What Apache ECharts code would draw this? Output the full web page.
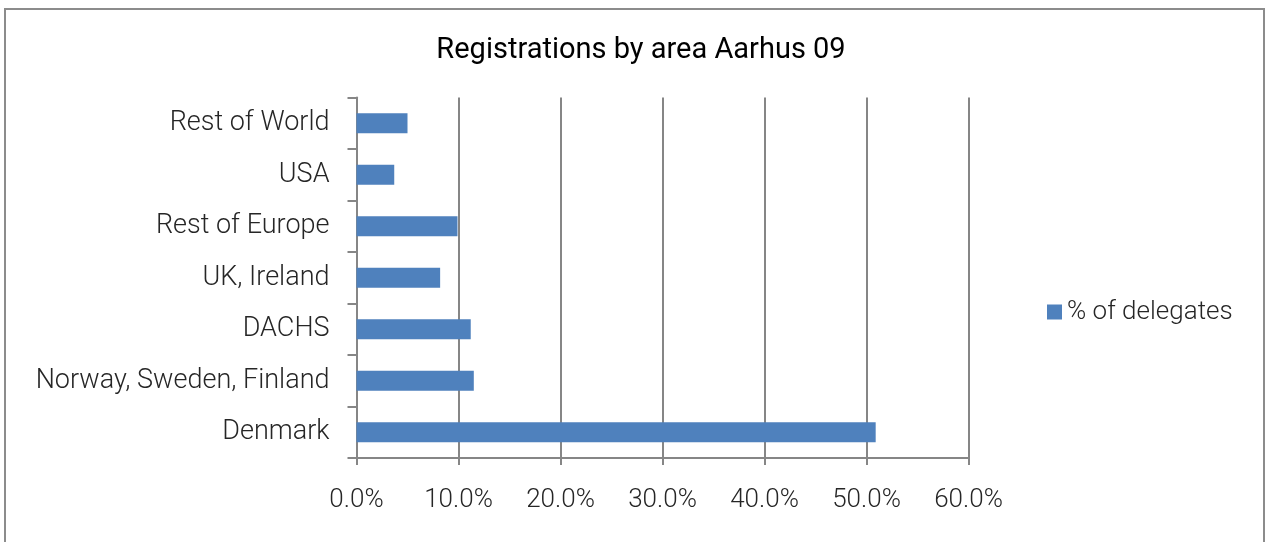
<!DOCTYPE html>
<html>
<head>
<meta charset="utf-8">
<script src="https://cdn.jsdelivr.net/npm/echarts@6/dist/echarts.min.js"></script>
<style>html,body{margin:0;padding:0;background:#fff}#c{width:1267px;height:542px}</style>
</head>
<body>
<div id="c"></div>
<script>
const categories = ["Denmark", "Norway, Sweden, Finland", "DACHS", "UK, Ireland", "Rest of Europe", "USA", "Rest of World"];
const delegates = [50.9, 11.5, 11.2, 8.2, 9.9, 3.7, 5.0];
const seriesName = "% of delegates";
const titleText = "Registrations by area Aarhus 09";

const chart = echarts.init(document.getElementById('c'));
const font = "Roboto";
chart.setOption({
  animation: false,
  backgroundColor: '#fff',
  graphic: [{
    type: 'rect', silent: true,
    shape: { x: 5, y: 9, width: 1259, height: 600 },
    style: { fill: 'none', stroke: '#8c8c8c', lineWidth: 2 }
  }],
  title: {
    text: titleText, left: 636, top: 31, textAlign: 'center',
    textStyle: { fontFamily: font, fontSize: 29, fontWeight: 'normal', color: '#000' }
  },
  legend: {
    data: [seriesName], left: 1042, top: 294, itemWidth: 15, itemHeight: 15, itemGap: 7,
    icon: 'rect',
    textStyle: { fontFamily: font, fontSize: 26, color: '#262626', fontWeight: 300 }
  },
  grid: { left: 356.5, right: 298.5, top: 97.5, bottom: 84, containLabel: false },
  xAxis: {
    type: 'value', min: 0, max: 60, interval: 10,
    axisLine: { show: true, lineStyle: { color: '#868686', width: 2 } },
    axisTick: { show: true, length: 7, lineStyle: { color: '#868686', width: 2 } },
    splitLine: { show: true, lineStyle: { color: '#868686', width: 2 } },
    axisLabel: { margin: 29, formatter: v => v.toFixed(1) + '%', fontFamily: font, fontSize: 26, color: '#262626', fontWeight: 300 }
  },
  yAxis: {
    type: 'category', data: categories,
    axisLine: { show: true, onZero: false, lineStyle: { color: '#868686', width: 2 } },
    axisTick: { show: true, length: 9, inside: false, lineStyle: { color: '#868686', width: 2 } },
    axisLabel: { margin: 27, padding: [4, 0, 0, 0], fontFamily: font, fontSize: 27, color: '#262626', fontWeight: 300 }
  },
  series: [{
    name: seriesName, type: 'bar', data: delegates, barWidth: 20,
    itemStyle: { color: '#4f81bd' }
  }]
});
</script>
</body>
</html>
